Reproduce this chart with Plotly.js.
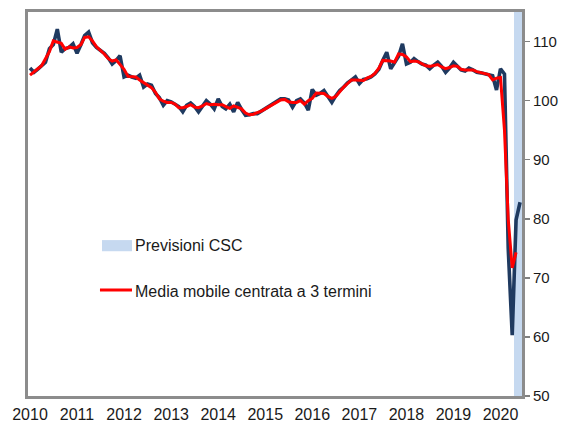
<!DOCTYPE html>
<html>
<head>
<meta charset="utf-8">
<script src="https://cdn.plot.ly/plotly-3.0.1.min.js"></script>
<style>
  html, body { margin: 0; padding: 0; background: #ffffff; }
  #chart { width: 561px; height: 424px; }
</style>
</head>
<body>
<div id="chart"></div>
<script>
// ---- Data (monthly, Jan 2010 - Jun 2020) ----
const firstYear = 2010;
const yearLabels = ["2010","2011","2012","2013","2014","2015","2016","2017","2018","2019","2020"];

// Production index (dark blue line), Jan 2010 .. Jun 2020
const production = [
  105.5,104.8,105.3,106.0,106.5,108.8,109.5,112.1,108.2,108.8,109.0,109.6, // 2010
  108.0,109.5,111.0,111.6,109.8,109.0,108.5,108.0,107.2,106.2,106.8,107.6, // 2011
  104.0,104.3,104.0,103.8,104.3,102.3,102.8,102.6,101.2,100.5, 99.2,100.0, // 2012
   99.8, 99.3, 99.0, 98.1, 99.2, 99.6, 99.0, 98.1, 99.2,100.0, 99.4, 98.6, // 2013
  100.3, 99.0, 98.6, 99.4, 98.1, 99.7, 98.5, 97.5, 97.6, 97.8, 97.8, 98.2, // 2014
   98.6, 99.0, 99.4, 99.8,100.3,100.3,100.1, 98.9,100.0,100.3, 99.6, 98.4, // 2015
  101.9,100.9,101.2,101.7,100.6, 99.7,100.8,101.7,102.3,103.0,103.5,104.0, // 2016
  102.9,103.6,103.7,104.0,104.5,105.3,106.8,108.2,105.4,106.5,107.5,109.6, // 2017
  106.2,106.5,107.1,106.6,106.2,106.0,105.4,106.0,106.5,105.8,104.8,105.5, // 2018
  106.5,105.8,105.2,105.0,105.5,105.2,104.8,104.7,104.6,104.4,104.2,101.8, // 2019
  105.4,104.5, 75.0, 60.3, 79.8, 82.8                                      // 2020
];

// Centred 3-term moving average (red line), Jan 2010 .. May 2020
const movingAvg = [
  104.3,104.9,105.4,105.9,107.1,108.3,110.1,109.9,109.7,108.7,109.1,108.9, // 2010
  109.0,109.5,110.7,110.8,110.1,109.1,108.5,107.9,107.1,106.7,106.9,106.1, // 2011
  105.3,104.1,104.0,104.0,103.5,103.1,102.6,102.2,101.4,100.3, 99.9, 99.7, // 2012
   99.7, 99.4, 98.8, 98.8, 99.0, 99.3, 98.9, 98.8, 99.1, 99.5, 99.3, 99.4, // 2013
   99.3, 99.3, 99.0, 98.7, 99.1, 98.8, 98.6, 97.9, 97.6, 97.7, 97.9, 98.2, // 2014
   98.6, 99.0, 99.4, 99.8,100.1,100.2, 99.8, 99.7, 99.7,100.0, 99.4,100.0, // 2015
  100.4,101.3,101.3,101.2,100.7,100.4,100.7,101.6,102.3,102.9,103.5,103.5, // 2016
  103.5,103.4,103.8,104.1,104.6,105.5,106.8,106.8,106.7,106.5,107.9,107.8, // 2017
  107.4,106.6,106.7,106.6,106.3,105.9,105.8,106.0,106.1,105.7,105.4,105.6, // 2018
  105.9,105.8,105.3,105.2,105.2,105.2,104.9,104.7,104.6,104.4,103.5,103.8, // 2019
  103.9, 95.0, 79.9, 71.7, 74.3                                            // 2020
];

// Forecast months (shaded band)
const forecastMonths = ["2020-05", "2020-06"];

// Value axis range and ticks
const yRange = [50, 115];
const yTicks = [50, 60, 70, 80, 90, 100, 110];

// Month categories
const months = [];
for (let k = 0; k < production.length; k++) {
  const y = firstYear + Math.floor(k / 12);
  const m = (k % 12) + 1;
  months.push(y + "-" + (m < 10 ? "0" + m : "" + m));
}

const FONT = "Liberation Sans, Arial, Helvetica, sans-serif";
const TEXT = "#1a1a1a";
const FRAME = "#8c8c8c";
const MONTH_MS = 31 * 24 * 3600 * 1000;

const traces = [
  {
    type: "bar",
    name: "Previsioni CSC",
    x: forecastMonths,
    base: forecastMonths.map(() => yRange[0]),
    y: forecastMonths.map(() => yRange[1] - yRange[0]),
    width: forecastMonths.map(() => MONTH_MS),
    marker: { color: "#c6d9f0", line: { width: 0 } },
    hoverinfo: "skip",
    showlegend: false
  },
  {
    type: "scatter",
    mode: "lines",
    name: "Produzione industriale",
    x: months,
    y: production,
    line: { color: "#1f3a60", width: 3.6 },
    showlegend: false
  },
  {
    type: "scatter",
    mode: "lines",
    name: "Media mobile centrata a 3 termini",
    x: months.slice(0, movingAvg.length),
    y: movingAvg,
    line: { color: "#ff0000", width: 3 },
    showlegend: false
  }
];

const layout = {
  width: 561,
  height: 424,
  margin: { l: 28, r: 39, t: 12, b: 28, pad: 0 },
  paper_bgcolor: "#ffffff",
  plot_bgcolor: "#ffffff",
  font: { family: FONT, size: 15, color: TEXT },
  showlegend: false,
  bargap: 0,
  xaxis: {
    type: "date",
    range: ["2009-12-16 12:00", "2020-06-16"],
    tickmode: "array",
    tickvals: yearLabels.map(y => y + "-01-01"),
    ticktext: yearLabels,
    ticks: "",
    showgrid: false,
    zeroline: false,
    showline: true,
    mirror: true,
    linecolor: FRAME,
    linewidth: 3,
    tickfont: { family: FONT, size: 16, color: TEXT },
    ticklabelstandoff: 2,
    layer: "below traces"
  },
  yaxis: {
    side: "right",
    range: yRange,
    tickmode: "array",
    tickvals: yTicks,
    ticks: "outside",
    ticklen: 5,
    tickwidth: 1.5,
    tickcolor: "#808080",
    showgrid: false,
    zeroline: false,
    showline: true,
    mirror: true,
    linecolor: FRAME,
    linewidth: 3,
    tickfont: { family: FONT, size: 15, color: TEXT },
    layer: "below traces"
  },
  shapes: [
    { type: "rect", xref: "paper", yref: "paper",
      x0: 0.1498, x1: 0.2105, y0: 0.377, y1: 0.406,
      fillcolor: "#c6d9f0", line: { width: 0 } },
    { type: "line", xref: "paper", yref: "paper",
      x0: 0.1457, x1: 0.2105, y0: 0.276, y1: 0.276,
      line: { color: "#ff0000", width: 3 } }
  ],
  annotations: [
    { xref: "paper", yref: "paper", x: 0.2125, y: 0.392,
      xanchor: "left", yanchor: "middle", showarrow: false,
      text: "Previsioni CSC", font: { family: FONT, size: 16, color: TEXT } },
    { xref: "paper", yref: "paper", x: 0.2125, y: 0.272,
      xanchor: "left", yanchor: "middle", showarrow: false,
      text: "Media mobile centrata a 3 termini", font: { family: FONT, size: 16, color: TEXT } }
  ]
};

Plotly.newPlot("chart", traces, layout, { displayModeBar: false, staticPlot: true });
</script>
</body>
</html>
